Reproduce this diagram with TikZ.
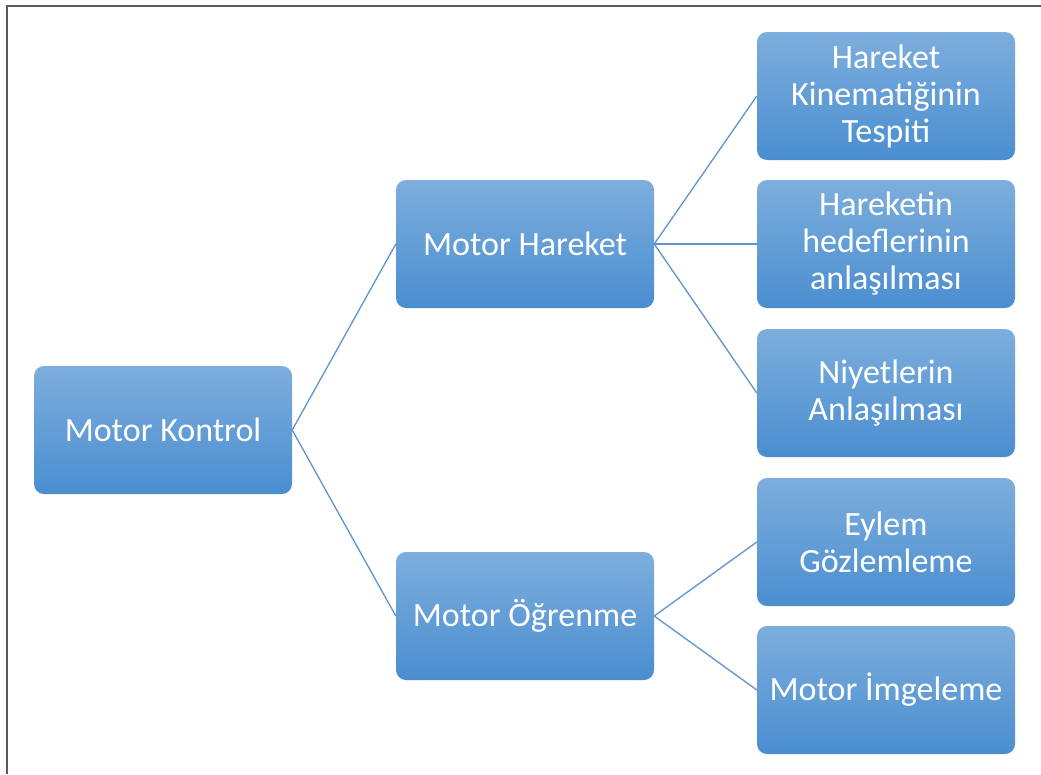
\documentclass[tikz,border=0pt]{standalone}
\usepackage{fontspec}
\setmainfont{Carlito}
\definecolor{boxtop}{HTML}{7DAEDD}
\definecolor{boxbot}{HTML}{4A8ED0}
\definecolor{linkc}{HTML}{5F93CF}
\definecolor{framec}{HTML}{5A5A5A}
\tikzset{
  box/.style={rounded corners=10pt, top color=boxtop, bottom color=boxbot,
    minimum width=258pt, minimum height=128pt, inner sep=0pt,
    text=white, align=center, font=\fontsize{34}{37}\selectfont},
  link/.style={draw=linkc, line width=1.3pt}
}
\begin{document}
\begin{tikzpicture}[x=1pt,y=-1pt]
\useasboundingbox (0,0) rectangle (1041,774);
\draw[framec, line width=2pt] (6.5,774) -- (6.5,5.5) -- (1041,5.5);
\node[box] (mk) at (163,430) {Motor Kontrol};
\node[box] (mh) at (525,244) {Motor Hareket};
\node[box] (mo) at (525,616) {Motor Öğrenme};
\node[box] (r1) at (886,96) {Hareket\\Kinematiğinin\\Tespiti};
\node[box] (r2) at (886,244) {Hareketin\\hedeflerinin\\anlaşılması};
\node[box] (r3) at (886,393) {Niyetlerin\\Anlaşılması};
\node[box] (r4) at (886,542) {Eylem\\Gözlemleme};
\node[box] (r5) at (886,690) {Motor İmgeleme};
\draw[link] (mk.east) -- (mh.west);
\draw[link] (mk.east) -- (mo.west);
\draw[link] (mh.east) -- (r1.west);
\draw[link] (mh.east) -- (r2.west);
\draw[link] (mh.east) -- (r3.west);
\draw[link] (mo.east) -- (r4.west);
\draw[link] (mo.east) -- (r5.west);
\end{tikzpicture}
\end{document}
